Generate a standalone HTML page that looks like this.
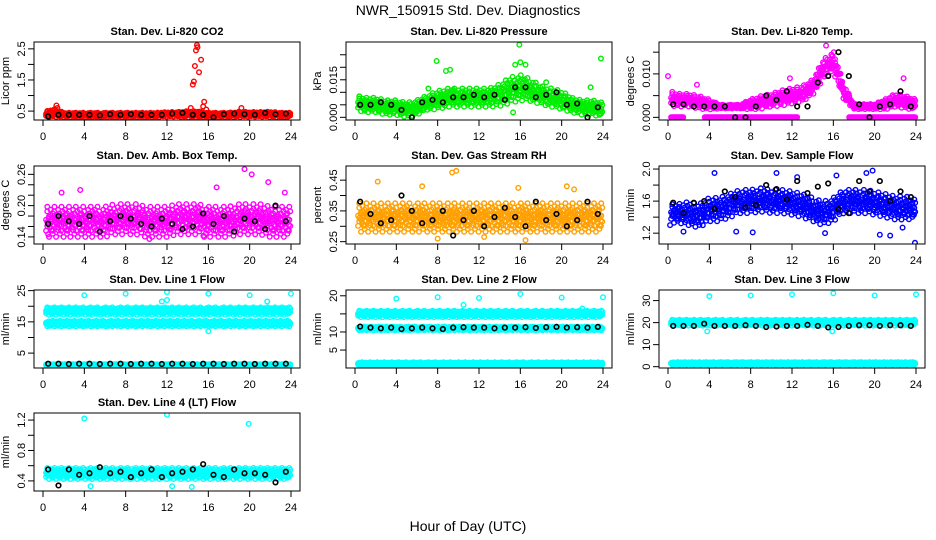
<!DOCTYPE html>
<html><head><meta charset="utf-8">
<style>
html,body{margin:0;padding:0;background:#fff;}
svg{display:block;font-family:"Liberation Sans",Arial,sans-serif;}
</style></head>
<body>
<svg id="chart" width="936" height="540" viewBox="0 0 936 540" xmlns="http://www.w3.org/2000/svg">
<rect x="0" y="0" width="936" height="540" fill="#fff"/>
<text x="468" y="15" font-size="14" text-anchor="middle">NWR_150915  Std. Dev. Diagnostics</text>
<text x="468" y="531" font-size="14" text-anchor="middle">Hour of Day (UTC)</text>
</svg>
<script>
// ---- data arrays (hourly values, hours 0..24) ----
const xTicks = [0,4,8,12,16,20,24];

const titles = ["Stan. Dev. Li-820 CO2","Stan. Dev. Li-820 Pressure","Stan. Dev. Li-820 Temp.","Stan. Dev. Amb. Box Temp.","Stan. Dev. Gas Stream RH","Stan. Dev. Sample Flow","Stan. Dev. Line 1 Flow","Stan. Dev. Line 2 Flow","Stan. Dev. Line 3 Flow","Stan. Dev. Line 4 (LT) Flow"];
const yLabels = ["Licor ppm","kPa","degrees C","degrees C","percent","ml/min","ml/min","ml/min","ml/min","ml/min"];
const yRanges = [[0.214,2.72],[-0.00107,0.0301],[-0.00061,0.01734],[0.1264,0.276],[0.2424,0.496],[1.065,2.038],[0.23,25.2],[0.04,21.6],[-0.6,34.8],[0.267,1.293]];
const yTickVals = [[0.5,1,1.5,2,2.5],[0,0.005,0.01,0.015,0.02,0.025],[0,0.005,0.01,0.015],[0.14,0.16,0.18,0.2,0.22,0.24,0.26],[0.25,0.3,0.35,0.4,0.45],[1.2,1.4,1.6,1.8,2.0],[5,10,15,20,25],[5,10,15,20],[0,10,20,30],[0.4,0.6,0.8,1.0,1.2]];
const yTickLabels = [["0.5","","1.5","","2.5"],["0.000","","","0.015","",""],["0.000","","0.010",""],["0.14","","","0.20","","","0.26"],["0.25","","0.35","","0.45"],["1.2","","1.6","","2.0"],["5","","15","","25"],["5","10","","20"],["0","10","20","30"],["0.4","","0.8","","1.2"]];
const colors = ["#ff0000","#00ee00","#ff00ff","#ff00ff","#ffa000","#0000ff","#00ffff","#00ffff","#00ffff","#00ffff"];

const p1Center = [0.38,0.45,0.38,0.38,0.38,0.38,0.38,0.38,0.38,0.38,0.38,0.38,0.4,0.4,0.4,0.4,0.38,0.38,0.38,0.4,0.4,0.4,0.4,0.38,0.38];
const p1Spread = [0.05,0.09,0.05,0.05,0.05,0.05,0.05,0.05,0.05,0.05,0.05,0.05,0.05,0.05,0.07,0.07,0.05,0.05,0.05,0.06,0.05,0.05,0.06,0.05,0.05];
const p2Center = [0.006,0.005,0.005,0.004,0.004,0.003,0.004,0.006,0.007,0.008,0.008,0.008,0.008,0.008,0.009,0.011,0.012,0.011,0.009,0.008,0.007,0.005,0.004,0.004,0.003];
const p2Spread = [0.002,0.002,0.002,0.002,0.002,0.002,0.002,0.002,0.0025,0.0025,0.0025,0.0025,0.0025,0.0025,0.003,0.0035,0.0035,0.003,0.0025,0.0025,0.0025,0.002,0.002,0.002,0.002];
const p3Center = [0.0045,0.004,0.004,0.0035,0.003,0.0025,0.0025,0.0025,0.003,0.0035,0.004,0.0045,0.005,0.0055,0.007,0.011,0.013,0.006,0.0025,0.0025,0.0025,0.003,0.004,0.0035,0.003];
const p3Spread = [0.0012,0.001,0.001,0.001,0.0008,0.0003,0.0003,0.0003,0.0008,0.001,0.001,0.0012,0.0012,0.0012,0.0012,0.0015,0.0017,0.0012,0.0004,0.0004,0.0004,0.0008,0.001,0.001,0.0008];
const p3Zero = [0,0,null,null,0,0,0,0,0,0,0,0,0,null,null,null,null,null,0,0,0,0,0,0,0];
const p4Center = [0.17,0.17,0.17,0.17,0.17,0.17,0.17,0.175,0.175,0.175,0.17,0.17,0.17,0.175,0.175,0.175,0.17,0.17,0.17,0.175,0.175,0.175,0.17,0.17,0.17];
const p4Spread = [0.02,0.02,0.02,0.02,0.02,0.02,0.02,0.02,0.02,0.02,0.02,0.02,0.02,0.02,0.02,0.02,0.02,0.02,0.02,0.02,0.02,0.02,0.02,0.02,0.02];
const p5Center = [0.33,0.33,0.33,0.33,0.33,0.33,0.33,0.33,0.33,0.33,0.33,0.33,0.33,0.33,0.33,0.33,0.33,0.33,0.33,0.33,0.33,0.33,0.33,0.33,0.33];
const p5Spread = [0.032,0.032,0.032,0.032,0.032,0.032,0.032,0.032,0.032,0.032,0.032,0.032,0.032,0.032,0.032,0.032,0.032,0.032,0.032,0.032,0.032,0.032,0.032,0.032,0.032];
const p6Center = [1.45,1.45,1.45,1.42,1.5,1.5,1.55,1.6,1.6,1.62,1.6,1.6,1.58,1.55,1.5,1.45,1.5,1.6,1.6,1.6,1.58,1.55,1.52,1.52,1.5];
const p6Spread = [0.08,0.08,0.1,0.1,0.1,0.1,0.1,0.1,0.1,0.1,0.1,0.1,0.1,0.1,0.1,0.1,0.1,0.1,0.1,0.1,0.1,0.1,0.1,0.1,0.08];
const flat = (v)=>Array(25).fill(v);
const p7Upper = flat(18.5), p7UpperS = flat(0.8), p7Mid = flat(14.5), p7MidS = flat(0.6), p7Low = flat(1.2), p7LowS = flat(0.2);
const p8Upper = flat(15), p8UpperS = flat(0.6), p8Mid = flat(11), p8MidS = flat(0.35), p8Low = flat(1.2), p8LowS = flat(0.3);
const p9Upper = flat(20), p9UpperS = flat(0.9), p9Low = flat(1.5), p9LowS = flat(0.4);
const p10Center = flat(0.5), p10Spread = flat(0.05);

const bands = [
  [[p1Center,p1Spread]],
  [[p2Center,p2Spread]],
  [[p3Center,p3Spread],[p3Zero,flat(0)]],
  [[p4Center,p4Spread]],
  [[p5Center,p5Spread]],
  [[p6Center,p6Spread]],
  [[p7Upper,p7UpperS],[p7Mid,p7MidS],[p7Low,p7LowS]],
  [[p8Upper,p8UpperS],[p8Mid,p8MidS],[p8Low,p8LowS]],
  [[p9Upper,p9UpperS],[p9Low,p9LowS]],
  [[p10Center,p10Spread]]
];

const outliers = [
  [[14.5,1.35],[14.6,1.45],[14.7,1.95],[14.8,2.45],[14.9,2.62],[14.95,2.55],[15.1,1.75],[15.3,2.15],[14.3,0.6],[15.6,0.8],[15.5,0.65],[1.3,0.68],[1.4,0.6],[19.2,0.6],[15.8,0.55]],
  [[7.9,0.0225],[8.8,0.0185],[9.2,0.019],[15.9,0.029],[16,0.022],[16.5,0.021],[15.5,0.021],[15.3,0.002],[23.8,0.0235],[22.8,0.012],[7.1,0.0115],[9.5,0.011],[18.5,0.014]],
  [[0,0.0095],[2.8,0.0075],[11.8,0.009],[22.8,0.009],[15.3,0.0165]],
  [[19.5,0.27],[20.2,0.26],[21.8,0.245],[3.6,0.23],[1.8,0.225],[23.4,0.225],[15.6,0.14],[10.3,0.136],[0.5,0.145],[16.8,0.235]],
  [[9.4,0.475],[9.8,0.48],[2.2,0.445],[20.5,0.43],[15.8,0.425],[6.5,0.43],[21.2,0.42],[8,0.26],[16.5,0.255],[12.5,0.265]],
  [[4.5,1.95],[10.5,1.95],[12.5,1.9],[16.3,1.92],[19.2,1.95],[19.8,1.98],[0.2,1.3],[1.5,1.22],[6.6,1.22],[8.2,1.21],[15.2,1.2],[21.5,1.17],[22.7,1.27],[23.9,1.08],[20.5,1.18]],
  [[4,23.5],[8,24],[12,24.5],[16,24],[20,23.5],[24,24],[11.5,21.5],[12,22],[21.7,21.5],[16,12]],
  [[4,19.2],[8,19.6],[12,19.4],[16,20.5],[20,19.5],[24,19.6],[10.5,17.5],[22,16.5]],
  [[4,32],[8,32.3],[12,32.8],[16,33.3],[20,32.3],[24,32.8],[3.8,16],[15.9,16]],
  [[4,1.22],[12,1.27],[19.9,1.15],[4.6,0.33],[12.5,0.33],[14.4,0.32]]
];

const black = [
  [0.33,0.38,0.38,0.38,0.38,0.36,0.4,0.38,0.4,0.38,0.38,0.38,0.42,0.44,0.38,0.38,0.3,0.4,0.42,0.4,0.38,0.44,0.4,0.42],
  [0.005,0.005,0.006,0.005,0.003,0.0,0.006,0.007,0.006,0.008,0.008,0.009,0.008,0.009,0.007,0.012,0.012,0.008,0.009,0.01,0.005,0.0055,0.0,0.004],
  [0.003,0.003,0.0025,0.0025,0.0025,0.0025,0,0,0.0025,0.005,0.004,0.006,0.0025,0.0025,0.008,0.0095,0.015,0.0095,0.003,0,0.0025,0.003,0.006,0.0025],
  [0.165,0.18,0.17,0.165,0.18,0.15,0.17,0.18,0.175,0.165,0.16,0.175,0.165,0.155,0.16,0.185,0.165,0.18,0.15,0.175,0.17,0.155,0.2,0.17],
  [0.38,0.34,0.31,0.32,0.4,0.35,0.31,0.32,0.35,0.27,0.32,0.35,0.3,0.33,0.36,0.33,0.3,0.38,0.32,0.34,0.3,0.32,0.38,0.34],
  [1.58,1.45,1.58,1.6,1.5,1.72,1.65,1.52,1.55,1.8,1.75,1.62,1.85,1.7,1.78,1.82,1.5,1.45,1.85,1.72,1.85,1.6,1.72,1.65],
  [1.6,1.6,1.5,1.6,1.6,1.5,1.6,1.6,1.5,1.6,1.6,1.5,1.6,1.6,1.5,1.6,1.6,1.5,1.6,1.6,1.5,1.6,1.6,1.6],
  [11.5,11.2,11,11.2,10.8,11,11.2,11,10.8,11.2,11.3,11.2,11.2,11,11.2,11.2,11.3,11.1,11.3,11.4,11.2,11.3,11.2,11.4],
  [18.5,18.5,18.5,19.5,18.5,18.5,18.5,18.8,18.5,18,18.2,18.5,18.5,19,18.5,17.8,18,18.5,18.8,18.8,18.5,18.8,18.8,18.5],
  [0.55,0.34,0.55,0.48,0.5,0.58,0.5,0.52,0.45,0.5,0.55,0.45,0.5,0.52,0.55,0.62,0.48,0.45,0.55,0.5,0.5,0.48,0.38,0.52]
];

// ---- layout ----
const NS = "http://www.w3.org/2000/svg";
const svg = document.getElementById("chart");
const colLeft = [34, 346, 659];
const rowTop = [42, 166, 290, 413];
const PW = 266, PH = 78;
// fixed scatter pattern (spread multipliers and time nudges)
const offs = [-0.9,0.15,1.4,-0.45,0.95,-0.1,0.45,-1.5,0.3,-0.25,0.6,-0.6,0.0,1.1,-0.85,0.2,-1.2,0.75,-0.35];
const tNudge = [0,0.04,-0.03,0.06,-0.05,0.02,-0.01];

function mk(tag, attrs, parent){
  const e = document.createElementNS(NS, tag);
  for (const k in attrs) e.setAttribute(k, attrs[k]);
  parent.appendChild(e);
  return e;
}
function interp(arr, t){
  const h = Math.floor(t), f = t - h;
  const a = arr[Math.min(h,24)], b = arr[Math.min(h+1,24)];
  if (a === null && b === null) return null;
  if (a === null) return f > 0.5 ? b : null;
  if (b === null) return f < 0.5 ? a : null;
  return a + (b - a) * f;
}

for (let p = 0; p < 10; p++){
  const L = colLeft[p % 3], T = rowTop[Math.floor(p / 3)];
  const [y0, y1] = yRanges[p];
  const xs = (h) => L + 9 + h * (248 / 24);
  const ys = (v) => T + PH - (v - y0) / (y1 - y0) * PH;
  const g = mk("g", {}, svg);
  
  

  const ttl = mk("text", {x: L + PW / 2, y: T - 7, "font-size": 11, "font-weight": "bold", "text-anchor": "middle"}, g);
  ttl.textContent = titles[p];
  
  

  const yl = mk("text", {x: 0, y: 0, "font-size": 11, "text-anchor": "middle", transform: `translate(${L - 25},${T + PH / 2}) rotate(-90)`}, g);
  yl.textContent = yLabels[p];
  
  

  const cp = mk("clipPath", {id: "cp" + p}, g);
  mk("rect", {x: L, y: T, width: PW, height: PH}, cp);
  const pts = mk("g", {"clip-path": `url(#cp${p})`}, g);
  
  

  const col = colors[p];
  bands[p].forEach((band, bi) => {
    const [cArr, sArr] = band;
    let i = 0;
    for (let t0 = 0.3; t0 <= 23.95; t0 += 0.075, i++){
      const t = t0 + tNudge[i % tNudge.length];
      const c = interp(cArr, t);
      if (c === null) continue;
      const s = interp(sArr, t);
      const reps = s === 0 ? 1 : 2;
      for (let r = 0; r < reps; r++){
        const k = offs[(i * 2 + r + bi * 5) % offs.length];
        const c1 = mk("circle", {cx: xs(t).toFixed(1), cy: ys(c + k * s).toFixed(1), r: 2.3, fill: "none", stroke: col, "stroke-width": 1.4}, pts);
        
      }
    }
  });
  outliers[p].forEach(([h, v]) => {
    const c1 = mk("circle", {cx: xs(h), cy: ys(v), r: 2.3, fill: "none", stroke: col, "stroke-width": 1.4}, pts);
    
  });
  black[p].forEach((v, h) => {
    const c1 = mk("circle", {cx: xs(h + 0.5), cy: ys(v), r: 2.3, fill: "none", stroke: "#000", "stroke-width": 1.6}, pts);
    
  });

  const fr = mk("rect", {x: L, y: T, width: PW, height: PH, fill: "none", stroke: "#000", "stroke-width": 1}, g);
  
  

  const xa = mk("g", {}, g);
  
  
  xTicks.forEach(h => {
    mk("line", {x1: xs(h), x2: xs(h), y1: T + PH, y2: T + PH + 6, stroke: "#000"}, xa);
    const tl = mk("text", {x: xs(h), y: T + PH + 20, "font-size": 11, "text-anchor": "middle"}, xa);
    tl.textContent = h;
    
  });
  const ya = mk("g", {}, g);
  
  
  yTickVals[p].forEach((v, i) => {
    mk("line", {x1: L - 6, x2: L, y1: ys(v), y2: ys(v), stroke: "#000"}, ya);
    const lab = yTickLabels[p][i];
    if (lab){
      const tl = mk("text", {x: 0, y: 0, "font-size": 11, "text-anchor": "middle", transform: `translate(${L - 9},${ys(v)}) rotate(-90)`}, ya);
      tl.textContent = lab;
      
    }
  });
}
</script>
</body></html>
